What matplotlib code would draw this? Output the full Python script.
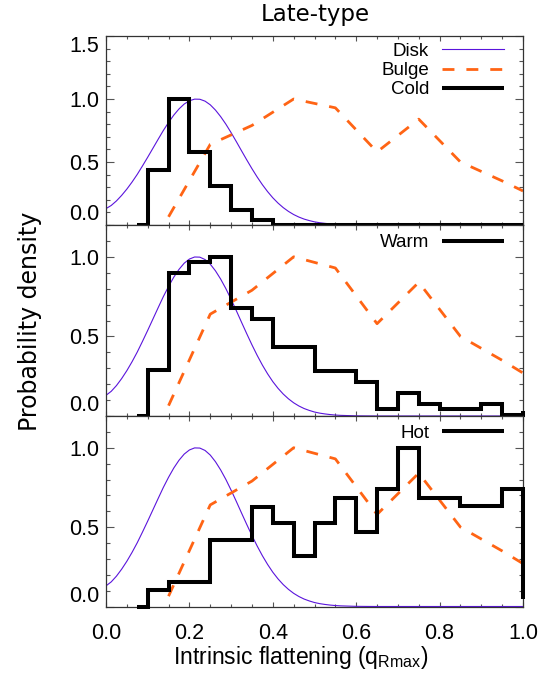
import matplotlib
matplotlib.use("Agg")
import matplotlib.pyplot as plt
import numpy as np
from matplotlib.ticker import FixedLocator, MultipleLocator, FormatStrFormatter

plt.rcParams['font.family'] = ['Liberation Sans', 'DejaVu Sans']
plt.rcParams['mathtext.fontset'] = 'custom'
plt.rcParams['mathtext.rm'] = 'Liberation Sans'
plt.rcParams['mathtext.it'] = 'Liberation Sans:italic'

# ---------------- data ----------------
title = "Late-type"
xlabel = r"Intrinsic flattening (q$_{\mathrm{Rmax}}$)"
ylabel = "Probability density"

# disk model curve
disk_x = [0.0, 0.0125, 0.025, 0.0375, 0.05, 0.0625, 0.075, 0.0875, 0.1, 0.1125,
          0.125, 0.1375, 0.15, 0.1625, 0.175, 0.1875, 0.2, 0.2125, 0.225, 0.2375,
          0.25, 0.2625, 0.275, 0.2875, 0.3, 0.3125, 0.325, 0.3375, 0.35, 0.3625,
          0.375, 0.3875, 0.4, 0.4125, 0.425, 0.4375, 0.45, 0.4625, 0.475, 0.4875,
          0.5, 0.5125, 0.525, 0.5375, 0.55, 0.5625, 0.575, 0.5875, 0.6, 0.625,
          0.65, 0.7, 0.8, 0.9, 1.0]
disk_y = [0.130, 0.155, 0.191, 0.235, 0.285, 0.341, 0.402, 0.469, 0.538, 0.609,
          0.680, 0.750, 0.814, 0.872, 0.921, 0.960, 0.986, 0.999, 0.998, 0.983,
          0.954, 0.912, 0.860, 0.800, 0.733, 0.662, 0.589, 0.517, 0.447, 0.381,
          0.320, 0.265, 0.216, 0.174, 0.138, 0.108, 0.083, 0.063, 0.047, 0.035,
          0.025, 0.018, 0.013, 0.009, 0.006, 0.004, 0.003, 0.002, 0.001, 0.0004,
          0.0, 0.0, 0.0, 0.0, 0.0]

# bulge model curve
bulge_x = [0.15, 0.25, 0.35, 0.45, 0.55, 0.65, 0.75, 0.85, 0.95, 1.00]
bulge_y = [0.065, 0.64, 0.79, 1.00, 0.93, 0.58, 0.84, 0.50, 0.35, 0.27]

# histogram bins (left edges; last entry is the value at q=1.0)
hist_x = [0.075, 0.10, 0.15, 0.20, 0.25, 0.30, 0.35, 0.40, 0.45, 0.50,
          0.55, 0.60, 0.65, 0.70, 0.75, 0.80, 0.85, 0.90, 0.95, 1.00]
cold = [0.0, 0.44, 1.00, 0.58, 0.31, 0.12, 0.04, 0.0, 0.0, 0.0,
        0.0, 0.0, 0.0, 0.0, 0.0, 0.0, 0.0, 0.0, 0.0, 0.0]
warm = [0.0, 0.29, 0.90, 0.965, 1.00, 0.68, 0.61, 0.435, 0.435, 0.285,
        0.285, 0.215, 0.042, 0.147, 0.078, 0.042, 0.042, 0.073, 0.006, 0.03]
hot = [0.0, 0.105, 0.157, 0.157, 0.42, 0.42, 0.625, 0.526, 0.316, 0.526,
       0.685, 0.47, 0.74, 1.00, 0.685, 0.685, 0.63, 0.63, 0.74, 0.05]

panel_names = ["Cold", "Warm", "Hot"]
panel_hists = [cold, warm, hot]
panel_ymax = [1.5, 1.2, 1.2]
panel_yticks = [[0.0, 0.5, 1.0, 1.5], [0.0, 0.5, 1.0], [0.0, 0.5, 1.0]]
xticks = [0.0, 0.2, 0.4, 0.6, 0.8, 1.0]

disk_color = "#5a14dc"
bulge_color = "#ff6414"

# ---------------- figure ----------------
W, H = 547, 675
fig = plt.figure(figsize=(W / 100, H / 100), dpi=100)

left = 106 / W
width = 417 / W
tops = [36, 225, 416]
bottoms = [225, 416, 606.5]
legend_tops = [0.965, 0.952, 0.956]

axes = []
for i in range(3):
    b = 1 - bottoms[i] / H
    h = (bottoms[i] - tops[i]) / H
    ax = fig.add_axes([left, b, width, h])
    axes.append(ax)

    l_disk, = ax.plot(disk_x, disk_y, color=disk_color, lw=0.8, label="Disk", zorder=2)
    l_bulge, = ax.plot(bulge_x, bulge_y, color=bulge_color, lw=2.0, dashes=(4.3, 4.3),
                       label="Bulge", zorder=2)
    l_hist, = ax.plot(hist_x, panel_hists[i], drawstyle="steps-post", color="black",
                      lw=2.9, solid_joinstyle="miter", solid_capstyle="butt",
                      label=panel_names[i], clip_on=False, zorder=3)

    ax.set_xlim(0, 1.0)
    ax.set_ylim(0, panel_ymax[i])
    ax.xaxis.set_major_locator(FixedLocator(xticks))
    ax.xaxis.set_minor_locator(MultipleLocator(0.05))
    ax.yaxis.set_major_locator(FixedLocator(panel_yticks[i]))
    ax.yaxis.set_minor_locator(MultipleLocator(0.1))
    ax.xaxis.set_major_formatter(FormatStrFormatter("%.1f"))
    ax.yaxis.set_major_formatter(FormatStrFormatter("%.1f"))

    ax.tick_params(axis="both", which="both", direction="in", top=True, right=True,
                   colors="#555555", labelcolor="black", labelsize=15.5)
    ax.tick_params(axis="y", which="major", length=5.5, width=0.8, pad=5)
    ax.tick_params(axis="y", which="minor", length=3, width=0.8)
    ax.tick_params(axis="x", which="major", length=3.6, width=0.8, pad=12)
    ax.tick_params(axis="x", which="minor", length=2, width=0.8)
    if i < 2:
        ax.tick_params(axis="x", which="both", labelbottom=False)
    for s in ax.spines.values():
        s.set_linewidth(0.9)
        s.set_color("#333333")

    yt = ax.yaxis.get_major_ticks()
    yt[0].label1.set_verticalalignment("bottom")
    if i == 0:
        yt[-1].label1.set_verticalalignment("top")

    handles = [l_disk, l_bulge, l_hist] if i == 0 else [l_hist]
    ax.legend(handles=handles, loc="upper right", bbox_to_anchor=(0.955, legend_tops[i]),
              frameon=False, markerfirst=False, fontsize=13.5, handlelength=3.3,
              handletextpad=0.7, labelspacing=0.12, borderpad=0, borderaxespad=0)

axes[2].set_xlabel(xlabel, fontsize=16.5)
axes[2].xaxis.set_label_coords(0.466, -0.195)

fig.text(315 / W, 1 - 15 / H, title, ha="center", va="center",
         family=["DejaVu Sans"], fontsize=16.5)
fig.text(30 / W, 1 - 321 / H, ylabel, ha="center", va="center", rotation=90,
         family=["DejaVu Sans"], fontsize=17)

fig.savefig("out.png", dpi=100)
